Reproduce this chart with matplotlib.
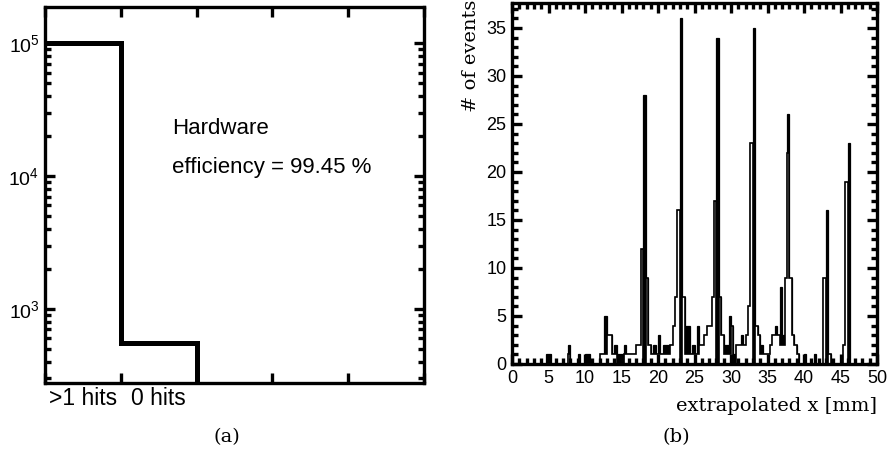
import numpy as np
import matplotlib
matplotlib.use("Agg")
import matplotlib.pyplot as plt
from matplotlib.ticker import MultipleLocator, LogLocator, LogFormatterSciNotation, NullFormatter

plt.rcParams['font.family'] = ['Liberation Sans', 'DejaVu Sans']
plt.rcParams['mathtext.default'] = 'regular'

# ---------------- panel (a) data ----------------
hit_categories = [">1 hits", "0 hits"]
hit_counts = [99450, 550, 0, 0, 0]          # 5 bins, last three empty
hit_edges = [0, 1, 2, 3, 4, 5]
annotation_title = "Hardware"
annotation_eff = "efficiency = 99.45 %"

# ---------------- panel (b) data ----------------
# 1/3 mm bins from 0 to 50 mm; each row below = 5 mm (15 bins)
bin_edges_mm = np.linspace(0, 50, 151)
total_counts = [
    0, 0, 0, 0, 0, 0, 0, 0, 0, 0, 0, 0, 0, 0, 1,
    1, 0, 0, 0, 0, 0, 0, 0, 2, 0, 0, 0, 1, 0, 0,
    1, 1, 0, 0, 0, 0, 1, 1, 5, 3, 3, 1, 2, 1, 1,
    1, 2, 1, 1, 1, 1, 2, 2, 12, 28, 9, 2, 1, 2, 1,
    3, 1, 2, 2, 2, 2, 4, 7, 16, 36, 7, 4, 4, 1, 2,
    1, 4, 2, 2, 3, 4, 4, 7, 17, 34, 7, 3, 2, 2, 5,
    4, 1, 2, 2, 3, 2, 3, 6, 23, 35, 4, 3, 2, 1, 1,
    1, 2, 3, 4, 3, 8, 3, 9, 26, 9, 3, 2, 1, 0, 0,
    1, 0, 0, 0, 1, 0, 0, 0, 9, 16, 1, 0, 0, 0, 0,
    0, 2, 19, 23, 0, 0, 0, 0, 0, 0, 0, 0, 0, 0, 0,
]
subset_counts = [
    0, 0, 0, 0, 0, 0, 0, 0, 0, 0, 0, 0, 0, 0, 0,
    0, 0, 0, 0, 0, 0, 0, 0, 1, 0, 0, 0, 0, 0, 0,
    0, 0, 0, 0, 0, 0, 1, 1, 1, 3, 3, 1, 1, 0, 0,
    0, 1, 1, 1, 1, 1, 2, 2, 12, 0, 9, 2, 1, 1, 1,
    1, 1, 1, 1, 1, 2, 4, 7, 16, 0, 7, 1, 1, 1, 1,
    1, 1, 2, 2, 3, 4, 4, 7, 17, 0, 7, 3, 1, 1, 1,
    4, 0, 2, 2, 2, 2, 3, 6, 23, 0, 4, 3, 1, 1, 1,
    1, 2, 3, 3, 3, 2, 2, 9, 22, 9, 3, 2, 1, 0, 0,
    0, 0, 0, 0, 0, 0, 0, 0, 9, 0, 1, 0, 0, 0, 0,
    0, 2, 19, 0, 0, 0, 0, 0, 0, 0, 0, 0, 0, 0, 0,
]
x_label = "extrapolated x [mm]"
y_label = "# of events"

W, H = 889, 468
fig = plt.figure(figsize=(W / 100, H / 100), dpi=100)

SPINE_W = 2.4
TICK_FS = 13
SERIF = ['DejaVu Serif']


def style_axes(ax):
    for s in ax.spines.values():
        s.set_linewidth(SPINE_W)
    ax.tick_params(which='both', direction='in', top=True, right=True,
                   width=SPINE_W, labelsize=TICK_FS, pad=4)
    ax.tick_params(which='major', length=7.5)
    ax.tick_params(which='minor', length=4)


# ---------------- panel (a) ----------------
axa = fig.add_axes([45 / W, 1 - 383 / H, (424 - 45) / W, (383 - 7) / H])
axa.set_yscale('log', nonpositive='clip')
axa.stairs(hit_counts, hit_edges, baseline=None, color='black', linewidth=3.6)
axa.set_xlim(0, 5)
axa.set_ylim(277, 1.87e5)
style_axes(axa)
axa.xaxis.set_major_locator(MultipleLocator(1))
axa.xaxis.set_major_formatter(NullFormatter())
axa.set_xticks([0.5, 1.5], labels=hit_categories, minor=True)
axa.tick_params(axis='x', which='minor', length=0, labelsize=16.5, pad=3)
axa.yaxis.set_major_locator(LogLocator(base=10))
axa.yaxis.set_minor_locator(LogLocator(base=10, subs=np.arange(2, 10)))
axa.yaxis.set_major_formatter(LogFormatterSciNotation())
axa.yaxis.set_minor_formatter(NullFormatter())
axa.tick_params(axis='y', which='major', labelsize=14)
fig.text(172 / W, 1 - 128 / H, annotation_title, fontsize=16, va='center', ha='left')
fig.text(172 / W, 1 - 167 / H, annotation_eff, fontsize=16, va='center', ha='left')

# ---------------- panel (b) ----------------
axb = fig.add_axes([512 / W, 1 - 364 / H, (877 - 512) / W, (364 - 3) / H])
axb.stairs(total_counts, bin_edges_mm, fill=True, facecolor='black',
           edgecolor='black', linewidth=0.9)
axb.stairs(subset_counts, bin_edges_mm, fill=True, facecolor='white',
           edgecolor='black', linewidth=1.2)
axb.set_xlim(0, 50)
axb.set_ylim(0, 37.6)
style_axes(axb)
axb.xaxis.set_major_locator(MultipleLocator(5))
axb.xaxis.set_minor_locator(MultipleLocator(1))
axb.yaxis.set_major_locator(MultipleLocator(5))
axb.yaxis.set_minor_locator(MultipleLocator(1))
fig.text(877 / W, 1 - 406 / H, x_label, family=SERIF, fontsize=14, ha='right', va='center')
fig.text(471 / W, 1 - 0 / H, y_label, family=SERIF, fontsize=14, rotation=90,
         ha='center', va='top')

fig.text(227 / W, 1 - 437 / H, "(a)", family=SERIF, fontsize=14, ha='center', va='center')
fig.text(676 / W, 1 - 437 / H, "(b)", family=SERIF, fontsize=14, ha='center', va='center')

fig.savefig("out.png", dpi=100)
